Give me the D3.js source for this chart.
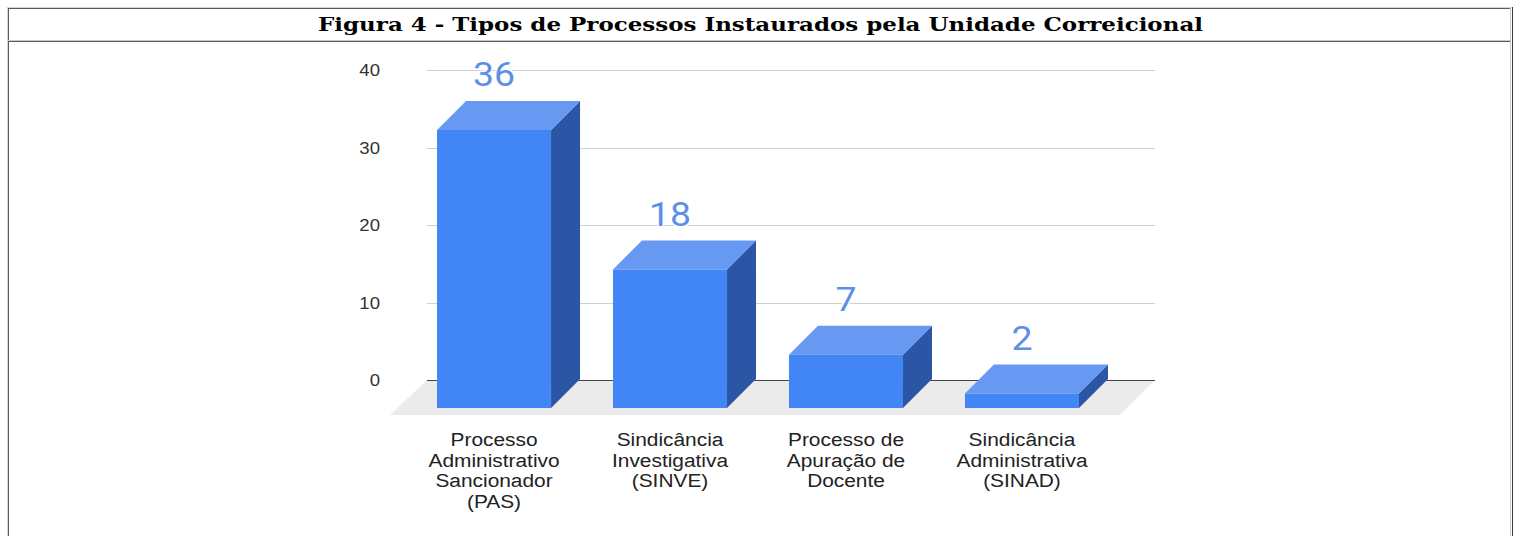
<!DOCTYPE html>
<html>
<head>
<meta charset="utf-8">
<script src="https://cdn.jsdelivr.net/npm/d3@7"></script>
<style>
html,body{margin:0;padding:0;background:#fff;}
svg{display:block;}
</style>
</head>
<body>
<svg id="chart" width="1514" height="536"></svg>
<script>
// ---- data ----
const titleText = "Figura 4 - Tipos de Processos Instaurados pela Unidade Correicional";
const categories = ["PAS", "SINVE", "Docente", "SINAD"];
const categoryLines = [
  ["Processo", "Administrativo", "Sancionador", "(PAS)"],
  ["Sindicância", "Investigativa", "(SINVE)"],
  ["Processo de", "Apuração de", "Docente"],
  ["Sindicância", "Administrativa", "(SINAD)"]
];
const values = [36, 18, 7, 2];
const yTicks = [0, 10, 20, 30, 40];

// ---- layout ----
const svg = d3.select("#chart");
const W = 1514, H = 536;
const stretch = 1.16;          // chart image is horizontally stretched
const depthX = 29, depthY = 29; // 3D offset

// Table frame (HTML table border=1 look)
const frame = svg.append("g");
frame.append("rect").attr("x", 7).attr("y", 7).attr("width", 1).attr("height", H).attr("fill", "#d4d4d4");
frame.append("rect").attr("x", 7).attr("y", 7).attr("width", 1506).attr("height", 1).attr("fill", "#d4d4d4");
frame.append("rect").attr("x", 1512).attr("y", 7).attr("width", 1).attr("height", H).attr("fill", "#3c3c3c");
frame.append("rect").attr("x", 8).attr("y", 8).attr("width", 1503).attr("height", 1).attr("fill", "#5a5a5a");
frame.append("rect").attr("x", 8).attr("y", 8).attr("width", 1).attr("height", 33).attr("fill", "#5a5a5a");
frame.append("rect").attr("x", 8).attr("y", 40).attr("width", 1503).attr("height", 1).attr("fill", "#c8c8c8");
frame.append("rect").attr("x", 1510).attr("y", 8).attr("width", 1).attr("height", 33).attr("fill", "#c8c8c8");
frame.append("rect").attr("x", 8).attr("y", 41).attr("width", 1503).attr("height", 1).attr("fill", "#5a5a5a");
frame.append("rect").attr("x", 8).attr("y", 41).attr("width", 1).attr("height", H).attr("fill", "#5a5a5a");
frame.append("rect").attr("x", 1510).attr("y", 41).attr("width", 1).attr("height", H).attr("fill", "#c8c8c8");

svg.append("text")
  .attr("x", 318).attr("y", 31)
  .attr("textLength", 885).attr("lengthAdjust", "spacingAndGlyphs")
  .attr("font-family", "'DejaVu Serif', serif")
  .attr("font-weight", "bold")
  .attr("font-size", 18)
  .attr("fill", "#000")
  .text(titleText);

// ---- scales ----
const y = d3.scaleLinear().domain([0, 40]).range([380, 70]);
const x = d3.scaleBand().domain(categories).range([437, 1079]).paddingInner(0.352).paddingOuter(0);
const bw = x.bandwidth();
const gridX0 = 427, gridX1 = 1155;

// floor
const y0 = y(0);
svg.append("path")
  .attr("d", `M${gridX0},${y0} L${gridX1},${y0} L${gridX1 - 35},${y0 + 35} L${gridX0 - 37},${y0 + 35} Z`)
  .attr("fill", "#ebebeb");

// y axis + gridlines
const yAxis = d3.axisLeft(y).tickValues(yTicks).tickSize(-(gridX1 - gridX0)).tickPadding(0).tickFormat(d3.format("d"));
const gy = svg.append("g").attr("transform", `translate(${gridX0},0)`).call(yAxis);
gy.select(".domain").remove();
gy.selectAll(".tick line").attr("stroke", d => d === 0 ? "#444" : "#cfcfcf").attr("stroke-width", 1)
  .attr("shape-rendering", "crispEdges");
gy.selectAll(".tick text")
  .attr("x", 0).attr("dy", "0.36em")
  .attr("transform", `translate(-47,0) scale(${stretch},1)`)
  .attr("font-family", "'Liberation Sans', Arial, sans-serif")
  .attr("font-size", 16)
  .attr("fill", "#333");

// bars
const bars = svg.append("g");
categories.forEach((c, i) => {
  const v = values[i];
  const xf = x(c);
  const yt = y(v) + depthY;
  const yb = y0 + depthY - 1;
  const g = bars.append("g");
  g.append("path")
    .attr("d", `M${xf + bw},${yt} L${xf + bw + depthX},${yt - depthY} L${xf + bw + depthX},${yb - depthY} L${xf + bw},${yb} Z`)
    .attr("fill", "#2b56a5");
  g.append("path")
    .attr("d", `M${xf},${yt} L${xf + depthX},${yt - depthY} L${xf + bw + depthX},${yt - depthY} L${xf + bw},${yt} Z`)
    .attr("fill", "#6899f2");
  g.append("rect")
    .attr("x", xf).attr("y", yt).attr("width", bw).attr("height", yb - yt)
    .attr("fill", "#4285f4");
  g.append("text")
    .attr("transform", `translate(${xf + bw / 2},${y(v) - 15}) scale(1.1,1)`)
    .attr("text-anchor", "middle")
    .attr("font-family", "Roboto, 'Liberation Sans', sans-serif")
    .attr("font-size", 34)
    .attr("fill", "#5b8fe8")
    .attr("stroke", "#fff").attr("stroke-width", 3).attr("paint-order", "stroke")
    .text(v);
  categoryLines[i].forEach((line, j) => {
    svg.append("text")
      .attr("transform", `translate(${xf + bw / 2},${446 + j * 20.7}) scale(${stretch},1)`)
      .attr("text-anchor", "middle")
      .attr("font-family", "'Liberation Sans', Arial, sans-serif")
      .attr("font-size", 18)
      .attr("fill", "#222")
      .text(line);
  });
});
</script>
</body>
</html>
